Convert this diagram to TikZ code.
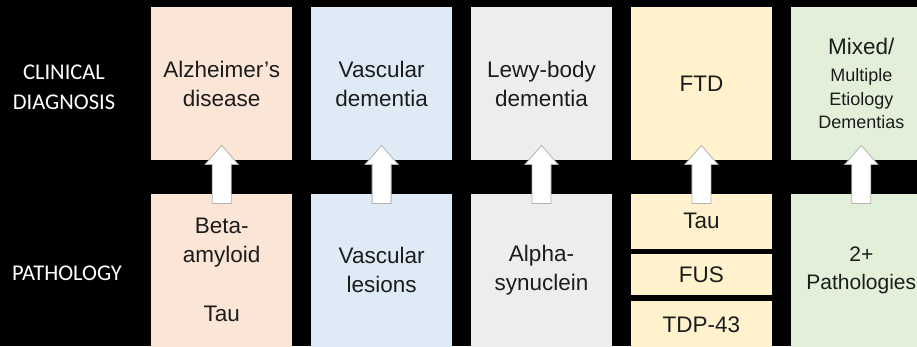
\documentclass[tikz,border=0pt]{standalone}
\usepackage{fontspec}
\setmainfont{Liberation Sans}
\newfontfamily\labelfont{Carlito}
\usetikzlibrary{positioning,calc}
\definecolor{adfill}{RGB}{251,229,214}
\definecolor{vdfill}{RGB}{222,235,247}
\definecolor{lbfill}{RGB}{237,237,237}
\definecolor{ftdfill}{RGB}{255,242,204}
\definecolor{mixfill}{RGB}{226,240,217}
\definecolor{boxtext}{RGB}{28,28,28}
\tikzset{
  dxbox/.style={rectangle, inner sep=0pt, minimum width=141pt, minimum height=153pt, align=center, text=boxtext, font=\fontsize{22.5}{29}\selectfont},
  subbox/.style={dxbox, minimum height=#1},
  rowlabel/.style={text=white, align=center, font=\labelfont\fontsize{22.5}{30}\selectfont},
  uparrow/.style={draw=gray!60, fill=white, line width=0.8pt, line join=miter},
}
\newcommand{\smtxt}[1]{{\fontsize{18}{23}\selectfont #1}}
\newcommand{\blockarrow}[2]{%
  \draw[uparrow] ($(#1.north)+(-9.5,-10)$) -- ($(#2.south)+(-9.5,-4)$) -- ++(-7,0)
    -- ($(#2.south)+(0,15)$) -- ($(#2.south)+(16.5,-4)$) -- ++(-7,0)
    -- ($(#1.north)+(9.5,-10)$) -- cycle;}

\begin{document}
\begin{tikzpicture}[x=1pt, y=1pt, node distance=33pt and 18.5pt]

\useasboundingbox (0,0) rectangle (917,346);
\clip (0,0) rectangle (917,346);
\fill[black] (0,0) rectangle (917,346);

\node[rowlabel] (lbldx) at (64,259) {CLINICAL\\DIAGNOSIS};
\node[rowlabel] (lblpat) at (67,73) {PATHOLOGY};

\node[dxbox, fill=adfill, anchor=north west] (dxad) at (151,339) {Alzheimer’s\\disease};
\node[dxbox, fill=vdfill, right=of dxad] (dxvd) {Vascular\\dementia};
\node[dxbox, fill=lbfill, right=of dxvd] (dxlb) {Lewy-body\\dementia};
\node[dxbox, fill=ftdfill, right=of dxlb] (dxftd) {FTD};
\node[dxbox, fill=mixfill, right=of dxftd] (dxmix) {Mixed/\\[-2pt]\smtxt{Multiple}\\[-5pt]\smtxt{Etiology}\\[-6pt]\smtxt{Dementias}};

\node[dxbox, fill=adfill, below=of dxad] (patad) {Beta-\\amyloid\\[30pt]Tau};
\node[dxbox, fill=vdfill, below=of dxvd] (patvd) {Vascular\\lesions};
\node[dxbox, fill=lbfill, below=of dxlb] (patlb) {Alpha-\\synuclein};
\node[subbox=55pt, fill=ftdfill, below=of dxftd] (pattau) {Tau};
\node[subbox=41pt, fill=ftdfill, below=5pt of pattau] (patfus) {FUS};
\node[subbox=46pt, fill=ftdfill, below=6pt of patfus] (pattdp) {TDP-43};
\node[dxbox, fill=mixfill, below=of dxmix, font=\fontsize{21}{28}\selectfont] (patmix) {2+\\Pathologies};

\blockarrow{patad}{dxad}
\blockarrow{patvd}{dxvd}
\blockarrow{patlb}{dxlb}
\blockarrow{pattau}{dxftd}
\blockarrow{patmix}{dxmix}

\end{tikzpicture}
\end{document}
